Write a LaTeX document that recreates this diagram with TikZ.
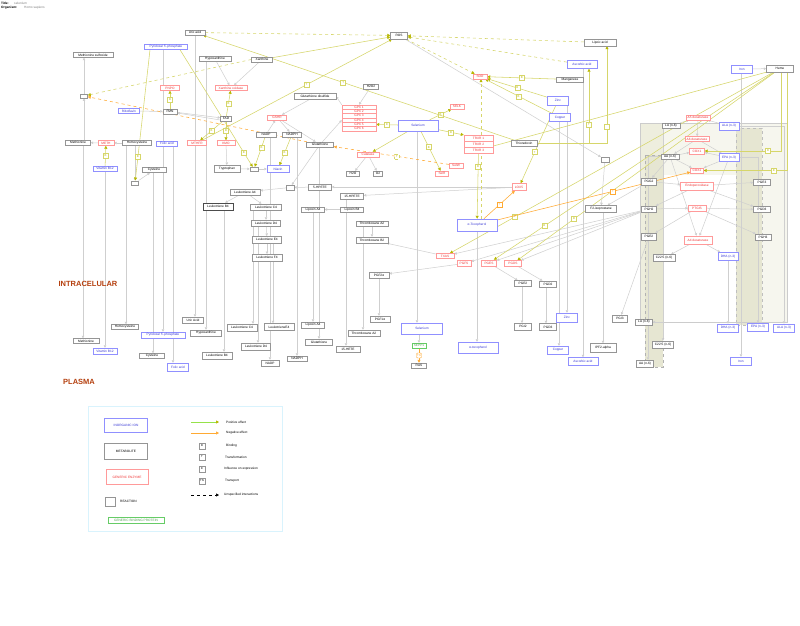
\documentclass[tikz,border=0pt]{standalone}
\usepackage{fontspec}
\setmainfont{Liberation Sans}
\usetikzlibrary{arrows.meta}
\pgfdeclarelayer{back}
\pgfdeclarelayer{bg}
\pgfsetlayers{back,bg,main}
\definecolor{ycol}{HTML}{D6D66A}
\definecolor{ydark}{HTML}{B8B800}
\definecolor{ocol}{HTML}{FFAA33}
\definecolor{gcol}{HTML}{CFCFCF}
\definecolor{mcol}{HTML}{959595}
\definecolor{bcol}{HTML}{9090FF}
\definecolor{btext}{HTML}{3535D5}
\definecolor{rcol}{HTML}{FF9A9A}
\definecolor{rtext}{HTML}{F03535}
\definecolor{brn}{HTML}{B5400F}
\definecolor{bg1}{HTML}{F6F6EE}
\definecolor{bg2}{HTML}{EEEEDE}
\definecolor{bg3}{HTML}{E6E6D2}
\definecolor{gbp}{HTML}{66CC66}
\tikzset{
 base/.style={rectangle, font=\fontsize{3.2}{3.6}\selectfont, inner sep=0.5pt, minimum height=5pt, fill=white, line width=0.45pt},
 met/.style={base, draw=mcol, text=black},
 ion/.style={base, draw=bcol, text=btext},
 enz/.style={base, draw=rcol, text=rtext},
 grn/.style={base, draw=gbp, text=gbp!80!black},
 rxn/.style={rectangle, draw=mcol, fill=white, minimum width=7pt, minimum height=4.5pt, inner sep=0pt, line width=0.45pt},
 lb/.style={rectangle, draw=ycol, fill=white, text=ydark, font=\fontsize{2.8}{3}\selectfont, inner sep=0.3pt, minimum width=5pt, minimum height=5pt, line width=0.4pt},
 lbo/.style={lb, draw=ocol, text=ocol},
 lgl/.style={lb, draw=mcol, text=black, minimum width=5.5pt, minimum height=5.5pt},
 txt/.style={font=\fontsize{3.2}{3.6}\selectfont, inner sep=0pt, anchor=west},
 gl/.style={draw=gcol, line width=0.5pt, -{Triangle[length=2.5pt,width=2.5pt]}},
 pl/.style={draw=ycol, line width=0.55pt, -{Triangle[length=3pt,width=3pt,color=ydark]}},
 nl/.style={draw=ocol, line width=0.55pt, -{Triangle[length=3pt,width=3pt]}},
 region/.style={font=\fontsize{7.5}{8}\selectfont\bfseries, text=brn},
}
\newcommand\vdown[3]{\draw[gl] ([xshift=#3]#1.south) -- ([xshift=#3]#1.south |- #2.north);}
\begin{document}
\begin{tikzpicture}[x=1pt,y=-1pt]
\useasboundingbox (0,0) rectangle (800,626);
\begin{pgfonlayer}{back}
\fill[white] (0,0) rectangle (800,626);
\fill[bg1] (640,123) rectangle (787,175);
\fill[bg2] (640,123) rectangle (663,322);
\fill[bg3] (645,155) rectangle (663,367);
\draw[gray!60, dashed, line width=0.3pt] (645,155) rectangle (663,367);
\fill[bg3] (736,128) rectangle (762,325);
\fill[bg1] (762,123) rectangle (787,322);
\draw[gray!50, dashed, line width=0.3pt] (736,128) rectangle (762,325);
\draw[gray!40, line width=0.3pt] (640,123) rectangle (787,322);
\end{pgfonlayer}
% title
\node[txt] (t1) at (1,3) {\textbf{Title:}};
\node[txt, text=gray] (t2) at (14,3) {selenium};
\node[txt] (t3) at (1,8) {\textbf{Organism:}};
\node[txt, text=gray] (t4) at (24,8) {Homo sapiens};
% region labels
\node[region] (intra) at (88,284) {INTRACELULAR};
\node[region] (plasma) at (79,382) {PLASMA};
% top left
\node[met, minimum width=20pt] (uric) at (195,32.5) {Uric acid};
\node[ion, minimum width=43pt] (pyr) at (166,47) {Pyridoxal 5'-phosphate};
\node[met, minimum width=40pt] (msulf) at (93,55) {Methionine sulfoxide};
\node[met, minimum width=32pt] (hypo) at (215,59) {Hypoxanthine};
\node[met, minimum width=21pt] (xan) at (262,59.5) {Xanthine};
\node[enz, minimum width=19pt] (pnpo) at (170,88) {PNPO};
\node[enz, minimum width=32pt] (xo) at (231,88) {Xanthine oxidase};
\node[rxn] (rx1) at (84,96) {};
\node[ion, minimum width=21pt] (ribo) at (129,111) {Riboflavin};
\node[met, minimum width=14pt] (fmn) at (170,111.5) {FMN};
\node[met, minimum width=11pt] (fad) at (226,118.5) {FAD};
\node[met, minimum width=25pt] (methio) at (78,142.5) {Methionine};
\node[enz, minimum width=16pt] (meth) at (106,143) {METH};
\node[met, minimum width=29pt] (homo) at (137,143) {Homocysteine};
\node[ion, minimum width=21pt] (folic) at (167,143.5) {Folic acid};
\node[enz, minimum width=19pt] (mthfr) at (197,143) {MTHFR};
\node[enz, minimum width=18pt] (kmo) at (226,143) {KMO};
\node[ion, minimum width=24pt] (b12) at (105,168.5) {Vitamin B12};
\node[met, minimum width=24pt] (cys) at (154,170) {Cysteine};
\node[rxn] (rx2) at (135,183) {};
\node[met, minimum width=26pt, minimum height=6.5pt] (trp) at (227,168.5) {Tryptophan};
\node[rxn, minimum width=8pt, minimum height=4pt] (rx3) at (254,169) {};
\node[ion, minimum width=22pt, minimum height=7pt] (niacin) at (278,169) {Niacin};
% glutathione area
\node[enz, minimum width=19pt] (gshr) at (277,117.5) {GSHR};
\node[met, minimum width=20pt] (nadp) at (266,134.5) {NADP};
\node[met, minimum width=19pt] (nadph) at (292,134.5) {NADPH};
\node[met, minimum width=27pt] (gsh) at (320,144.5) {Glutathione};
\node[met, minimum width=42pt, minimum height=6pt] (gssg) at (315,96.5) {Glutathione disulfide};
\node[met, minimum width=15pt] (h2o2) at (371,86.5) {H2O2};
\foreach \i in {1,...,6} \node[enz, minimum width=34pt, minimum height=4.33pt] (gpx\i) at (359,{102.8+4.33*\i}) {GPX \i};
\node[ion, minimum width=40pt, minimum height=11pt] (sel) at (418,125.5) {Selenium};
\node[met, minimum width=17pt, minimum height=7pt] (ros) at (399,35.5) {ROS};
\node[enz, minimum width=22pt] (cat) at (368,154.5) {Catalase};
\node[met, minimum width=13pt] (h2o) at (353,173.5) {H2O};
\node[met, minimum width=9pt] (o2) at (378,173.5) {O2};
\node[enz, minimum width=14pt] (selk) at (457,106.5) {SELK};
\node[enz, minimum width=14pt] (sod) at (480,76.5) {SOD};
\node[met, minimum width=27pt] (mn) at (570,79.5) {Manganese};
\node[met, minimum width=32pt, minimum height=7pt] (lipoic) at (600,42.5) {Lipoic acid};
\node[ion, minimum width=30pt, minimum height=8pt] (asc) at (582,64.5) {Ascorbic acid};
\node[ion, minimum width=21pt, minimum height=9pt] (zinc) at (558,100.5) {Zinc};
\node[ion, minimum width=21pt, minimum height=8pt] (copper) at (560,117.5) {Copper};
\foreach \i in {1,2,3} \node[enz, minimum width=29pt, minimum height=6pt] (trxr\i) at (478.5,{132+6*\i}) {TRXR \i};
\node[met, minimum width=26pt, minimum height=6pt] (trx) at (524,143.5) {Thioredoxin};
\node[enz, minimum width=14pt] (selw) at (456,165.5) {SelW};
\node[enz, minimum width=13pt] (selr) at (442,173.5) {SelR};
\node[enz, minimum width=14pt, minimum height=7pt] (lox5) at (519,187) {LOX5};
\node[ion, minimum width=40pt, minimum height=12pt] (atoc) at (477,225) {α-Tocopherol};
\node[rxn, minimum width=8pt] (rx4) at (290,187.5) {};
\node[met, minimum width=23pt, minimum height=6pt] (hpete5) at (320,187) {5-HPETE};
\node[met, minimum width=23pt, minimum height=6pt] (hpete15) at (352,196) {15-HPETE};
\node[met, minimum width=23pt] (lxa4) at (313,209.5) {Lipoxin A4};
\node[met, minimum width=23pt] (lxb4) at (352,209.5) {Lipoxin B4};
\node[met, minimum width=32pt] (txa2) at (372,223.5) {Thromboxane A2};
\node[met, minimum width=32pt, minimum height=6pt] (txb2) at (372,240) {Thromboxane B2};
\node[enz, minimum width=18pt] (txas) at (445,256) {TXAS};
\node[met, minimum width=20pt, minimum height=6pt] (pgf2a) at (379,275) {PGF2α};
\node[met, minimum width=30pt, minimum height=6pt] (lta4) at (245,192) {Leukotriene A4};
\node[met, minimum width=30pt, minimum height=7pt, line width=0.6pt, draw=black!70] (ltb4) at (218,206.5) {Leukotriene B4};
\node[met, minimum width=31pt, minimum height=6pt] (ltc4) at (266,207) {Leukotriene C4};
\node[met, minimum width=29pt, minimum height=6pt] (ltd4) at (266,223) {Leukotriene D4};
\node[met, minimum width=29pt, minimum height=6.5pt] (lte4) at (267,239.5) {Leukotriene E4};
\node[met, minimum width=30pt, minimum height=6.5pt] (ltf4) at (267,257.5) {Leukotriene F4};
\node[enz, minimum width=14pt, minimum height=6pt] (pgfs) at (464,263.5) {PGFS};
\node[enz, minimum width=15pt, minimum height=6pt] (pges) at (489,263) {PGES};
\node[enz, minimum width=17pt, minimum height=6pt] (pgds) at (513,263.5) {PGDS};
\node[met, minimum width=17pt, minimum height=6pt] (pge2) at (523,283.5) {PGE2};
\node[met, minimum width=17pt, minimum height=6pt] (pgd2) at (548,284) {PGD2};
\node[met, minimum width=17pt, minimum height=6.5pt] (pgi2) at (523,326.5) {PGI2};
\node[met, minimum width=17pt, minimum height=7pt] (pgj2) at (548,327) {PGD3};
\node[rxn, minimum width=8pt] (rx5) at (605,159.5) {};
\node[met, minimum width=31pt, minimum height=7pt] (f2iso) at (601,209) {F2-isoprostane};
% right cluster
\node[ion, minimum width=21pt, minimum height=8pt] (iron) at (742,69) {Iron};
\node[met, minimum width=27pt, minimum height=6.5pt] (heme) at (780,68.5) {Heme};
\node[enz, minimum width=24pt] (d5) at (698,117.5) {Δ5 desaturase};
\node[enz, minimum width=24pt] (d6) at (697,139) {Δ6 desaturase};
\node[met, minimum width=18pt] (la) at (671,125.5) {LA (n-6)};
\node[ion, minimum width=20pt, minimum height=8pt] (ala) at (729,126) {ALA (n-3)};
\node[enz, minimum width=15pt, minimum height=6pt] (cox1) at (697,151) {COX1};
\node[met, minimum width=18pt] (aa) at (670,156.5) {AA (n-6)};
\node[ion, minimum width=20pt, minimum height=8pt] (epa) at (729,157.5) {EPA (n-3)};
\node[enz, minimum width=13pt] (cox2) at (697,170.5) {COX2};
\node[met, minimum width=15pt, minimum height=7pt] (pgg2) at (649,181.5) {PGG2};
\node[met, minimum width=17pt, minimum height=6pt] (pge3) at (762,182) {PGE3};
\node[enz, minimum width=33pt, minimum height=8pt] (endo) at (697,186) {Endoperoxidase};
\node[met, minimum width=15pt, minimum height=6pt] (pgh2) at (649,209) {PGH2};
\node[enz, minimum width=18pt, minimum height=6pt] (ptgis) at (697,208) {PTGIS};
\node[met, minimum width=17pt, minimum height=6pt] (pgd3) at (762,209.5) {PGD3};
\node[met, minimum width=15pt, minimum height=7pt] (pge2r) at (649,236.5) {PGE2};
\node[enz, minimum width=28pt, minimum height=8pt] (d4) at (698,240) {Δ4 desaturase};
\node[met, minimum width=16pt, minimum height=6pt] (pgh3) at (763,237) {PGH3};
\node[met, minimum width=22pt, minimum height=7pt] (c225) at (664,258) {C22:5 (n-6)};
\node[ion, minimum width=20pt, minimum height=8pt] (dha) at (728,256.5) {DHA (n-3)};
\node[met, minimum width=15pt, minimum height=7pt] (pgi3) at (620,318.5) {PGI3};
\node[met, minimum width=17pt, minimum height=6pt] (la2) at (644,322) {LA (n-6)};
\node[ion, minimum width=21pt, minimum height=8pt] (dha2) at (728,328) {DHA (n-3)};
\node[ion, minimum width=21pt, minimum height=8pt] (epa2) at (758,327) {EPA (n-3)};
\node[ion, minimum width=21pt, minimum height=8pt] (ala2) at (784,328) {ALA (n-3)};
\node[met, minimum width=21pt, minimum height=7pt] (c2252) at (663,344.5) {C22:5 (n-6)};
\node[met, minimum width=17pt, minimum height=7pt] (aa2) at (645,363.5) {AA (n-6)};
\node[ion, minimum width=21pt, minimum height=8pt] (iron2) at (741,361) {Iron};
\node[met, minimum width=26pt, minimum height=9pt] (ipf) at (603,348) {IPF2-alpha};
% plasma row
\node[met, minimum width=26pt] (methio2) at (86,341) {Methionine};
\node[ion, minimum width=24pt, minimum height=6pt] (b122) at (105,351) {Vitamin B12};
\node[met, minimum width=27pt] (homo2) at (125,327) {Homocysteine};
\node[ion, minimum width=44pt, minimum height=6pt] (pyr2) at (163,335) {Pyridoxal 5'-phosphate};
\node[met, minimum width=25pt] (cys2) at (152,356) {Cysteine};
\node[ion, minimum width=21pt, minimum height=8pt] (folic2) at (178,367) {Folic acid};
\node[met, minimum width=21pt, minimum height=6pt] (uric2) at (193,320) {Uric Acid};
\node[met, minimum width=31pt, minimum height=6pt] (hypo2) at (206,333) {Hypoxanthine};
\node[met, minimum width=30pt, minimum height=7pt] (ltb42) at (217,355.5) {Leukotriene B4};
\node[met, minimum width=30pt, minimum height=7pt] (ltc42) at (242,327.5) {Leukotriene C4};
\node[met, minimum width=29pt, minimum height=7pt] (ltd42) at (256,346.5) {Leukotriene D4};
\node[met, minimum width=30pt, minimum height=7pt] (lte42) at (279,327) {LeukotrieneE4};
\node[met, minimum width=18pt, minimum height=6pt] (nadp2) at (270,363) {NADP};
\node[met, minimum width=20pt] (nadph2) at (297,358.5) {NADPH};
\node[met, minimum width=23pt, minimum height=6pt] (lxa42) at (313,325) {Lipoxin A4};
\node[met, minimum width=27pt, minimum height=6pt] (gsh2) at (319,342) {Glutathione};
\node[met, minimum width=24pt, minimum height=6pt] (hete15) at (348,349) {15-HETE};
\node[met, minimum width=32pt, minimum height=6pt] (txa22) at (364,333) {Thromboxane A2};
\node[met, minimum width=20pt, minimum height=6pt] (pgf1a) at (380,319) {PGF1α};
\node[ion, minimum width=41pt, minimum height=11pt] (sel2) at (422,328.5) {Selenium};
\node[grn, minimum width=14pt] (sepp) at (419,345.5) {SEPP1};
\node[met, minimum width=15pt] (ras) at (419,365.5) {RAS};
\node[ion, minimum width=40pt, minimum height=11pt] (atoc2) at (478,347.5) {α-tocopherol};
\node[ion, minimum width=21pt, minimum height=9pt] (zinc2) at (567,317.5) {Zinc};
\node[ion, minimum width=21pt, minimum height=8pt] (copper2) at (558,350) {Copper};
\node[ion, minimum width=30pt, minimum height=8pt] (asc2) at (583,361.5) {Ascorbic acid};
% legend
\draw[draw=cyan!15, line width=0.6pt] (88,406) rectangle (282,531);
\node[ion, minimum width=43pt, minimum height=14pt] (lg1) at (126,425) {INORGANIC ION};
\node[met, minimum width=43pt, minimum height=16pt] (lg2) at (126,451) {METABOLITE};
\node[enz, minimum width=42pt, minimum height=15pt] (lg3) at (127,477) {GENERIC ENZYME};
\node[rxn, minimum width=10pt, minimum height=9pt] (lg4) at (110,501.5) {};
\node[txt] (lg4t) at (120,501.5) {REACTION};
\node[grn, minimum width=56pt, minimum height=6pt] (lg5) at (136,520) {GENERIC BINDING PROTEIN};
\coordinate (lgA1) at (191,422); \coordinate (lgA2) at (219,422);
\coordinate (lgB1) at (191,433); \coordinate (lgB2) at (219,433);
\coordinate (lgC1) at (191,495); \coordinate (lgC2) at (219,495);
\draw[draw=ycol!70!green, line width=0.6pt, -{Triangle[length=3pt,width=3pt,color=ydark]}] (lgA1) -- (lgA2);
\draw[nl] (lgB1) -- (lgB2);
\draw[dashed, line width=0.5pt, -{Triangle[length=3pt,width=3pt]}] (lgC1) -- (lgC2);
\node[txt] (lt1) at (226,422) {Positive effect};
\node[txt] (lt2) at (226,433) {Negative effect};
\node[lgl] (lk1) at (202,446) {B};
\node[txt] (lt3) at (226,446) {Binding};
\node[lgl] (lk2) at (202,457) {T};
\node[txt] (lt4) at (225,457) {Transformation};
\node[lgl] (lk3) at (202,469) {E};
\node[txt] (lt5) at (224,469) {Influence on expression};
\node[lgl] (lk4) at (202,481) {TN};
\node[txt] (lt6) at (225,481) {Transport};
\node[txt] (lt7) at (224,495) {Unspecified interactions};
\begin{pgfonlayer}{bg}
% vertical intracellular -> plasma
\vdown{methio}{methio2}{5pt}
\vdown{b12}{b122}{0pt}
\vdown{homo}{homo2}{-11pt}
\vdown{cys}{cys2}{-1pt}
\vdown{pyr}{pyr2}{-3pt}
\vdown{folic}{folic2}{6pt}
\vdown{uric}{uric2}{0pt}
\vdown{hypo}{hypo2}{-9pt}
\vdown{ltb4}{ltb42}{6pt}
\vdown{ltc4}{ltc42}{-13pt}
\vdown{ltd4}{ltd42}{-8pt}
\vdown{nadp}{nadp2}{4pt}
\vdown{lte4}{lte42}{6pt}
\vdown{nadph}{nadph2}{5pt}
\vdown{lxa4}{lxa42}{0pt}
\vdown{gsh}{gsh2}{-1pt}
\vdown{hpete15}{hete15}{-6pt}
\vdown{txa2}{txa22}{-9pt}
\vdown{pgf2a}{pgf1a}{0pt}
\vdown{sel}{sel2}{-1pt}
\vdown{atoc}{atoc2}{0pt}
\vdown{pge2}{pgi2}{-1pt}
\vdown{pgd2}{pgj2}{-2pt}
\vdown{zinc}{zinc2}{9pt}
\vdown{copper}{copper2}{-1pt}
\vdown{asc}{asc2}{1pt}
\vdown{f2iso}{ipf}{2pt}
\vdown{iron}{iron2}{-1pt}
\vdown{dha}{dha2}{0pt}
\vdown{c225}{c2252}{-1pt}
\vdown{sel2}{sepp}{-3pt}
\draw[ocol, line width=0.6pt, -{Triangle[length=3pt,width=3pt]}] (sepp) -- node[lbo, rounded corners=1pt]{TN} (ras);
% gray metabolic
\draw[gl] (rx1.north) -- (rx1.north |- msulf.south);
\draw[gl] (rx1.south |- methio.north) -- (rx1.south);
\draw[gl] (homo) -- (meth);
\draw[gl] (meth) -- (methio);
\draw[gl] (rx2.north |- homo.south) -- (rx2.north);
\draw[gl] (rx2) -- (cys);
\draw[gl] (ribo) -- (fmn);
\draw[gl] (fmn) -- (fad);
\draw[gl] ([yshift=-1.5pt]fad.west) -- ([yshift=-1.5pt]fmn.east);
\draw[gl] (hypo) -- (xo);
\draw[gl] (xan) -- (xo);
\draw[gl] (kmo) -- (trp);
\draw[gl] (trp) -- (rx3);
\draw[gl] (rx3) -- (niacin);
\draw[gl] (nadp) -- (gshr);
\draw[gl] (gshr) -- (nadph);
\draw[gl] (gshr) -- (gsh);
\draw[gl] (gsh) -- (gpx4.west);
\draw[gl] (h2o2) -- (gpx1.north);
\draw[gl] (gpx1.north west) -- (gssg.east);
\draw[gl] (gssg) -- (gshr);
\draw[gl] (cat) -- (h2o);
\draw[gl] (cat) -- (o2);
\draw[gl] (hpete5) -- (rx4);
\draw[gl] (gsh) -- (rx4);
\draw[gl] (rx4) -- (lta4);
\draw[gl] (lox5) -- (hpete5);
\draw[gl] (lox5) -- (hpete15);
\draw[gl] (lxb4) -- (lxa4);
\draw[gl] (lta4) -- (ltb4);
\draw[gl] (lta4) -- (ltc4);
\draw[gl] (ltc4) -- (ltd4);
\draw[gl] (ltd4) -- (lte4);
\draw[gl] (lte4) -- (ltf4);
\draw[gl] (txa2) -- (txb2);
\draw[gl] (txas) -- (txb2);
\draw[gl] (pgfs) -- (pgf2a);
\draw[gl] (pges) -- (pge2);
\draw[gl] (pgds) -- (pgd2);
\draw[gl] (pgh2) -- (txas);
\draw[gl] (pgh2) -- (pgfs);
\draw[gl] (pgh2) -- (pges);
\draw[gl] (pgh2) -- (pgds);
\draw[gl] (pgg2) -- (f2iso);
\draw[gl] (ros) -- (rx5);
\draw[gl] (rx5) -- (f2iso);
% right cluster gray
\draw[gl] (iron) -- (heme);
\draw[gl] (la) -- (d5);
\draw[gl] (ala) -- (d5);
\draw[gl] (d5) -- (d6);
\draw[gl] (d6) -- (aa);
\draw[gl] (d6) -- (epa);
\draw[gl] (aa) -- (cox1);
\draw[gl] (epa) -- (cox1);
\draw[gl] (aa) -- (cox2);
\draw[gl] (epa) -- (cox2);
\draw[gl] (aa) -- (pgg2);
\draw[gl] (aa) -- (d4);
\draw[gl] (epa) -- (d4);
\draw[gl] (pgg2) -- (endo);
\draw[gl] (endo) -- (pge3);
\draw[gl] (endo) -- (pgd3);
\draw[gl] (endo) -- (pgh2);
\draw[gl] (pgh2) -- (ptgis);
\draw[gl] (ptgis) -- (pgd3);
\draw[gl] (ptgis) -- (pge2r);
\draw[gl] (ptgis) -- (pgh3);
\draw[gl] (d4) -- (c225);
\draw[gl] (d4) -- (dha);
\draw[gl] (pge2r) -- (pgi3);
\draw[gl] ([xshift=1pt]la.south west) |- (la2.east);
\draw[gl] (aa.west) -| ([xshift=3pt]aa2.north);
\draw[gl] (epa.east) -| (epa2.north);
\draw[gl] (ala.east) -| (ala2.north);
% positive effects
\draw[pl] (fmn) -- node[lb]{B} (pnpo);
\draw[pl] (fad) -- node[lb]{B} (xo);
\draw[pl] (fad) -- node[lb]{B} (kmo);
\draw[pl] (fad) -- node[lb]{B} (mthfr);
\draw[pl] (b12) -- node[lb]{B} (meth);
\draw[pl] ([xshift=-16pt]pyr.south) -- node[lb,pos=0.82]{B} (rx2);
\draw[pl] ([xshift=14pt]pyr.south) -- node[lb,pos=0.88]{B} (rx3);
\draw[pl] (nadp) -- node[lb,pos=0.35]{B} (rx3);
\draw[pl] (nadph) -- node[lb,pos=0.55]{B} (niacin);
\draw[pl] (sel) -- node[lb]{E} (gpx5.east);
\draw[pl] (sel) -- node[lb]{B} (trxr1);
\draw[pl] (sel) -- node[lb]{B} (selk);
\draw[pl] (sel) -- node[lb,pos=0.4]{B} (selr);
\draw[pl] (sel) -- (cat);
\draw[pl] (mn) -- node[lb]{B} (sod);
\draw[pl] (zinc) -- node[lb]{B} (sod);
\draw[pl] (copper) -- node[lb]{B} (sod);
\draw[pl] (trx.east) -| node[lb,pos=0.625]{T} ([xshift=7pt]asc.south);
\draw[pl] (trx.east) -| node[lb,pos=0.585]{} ([xshift=7pt]lipoic.south);
\draw[pl,dashed] (uric) -- (ros);
\draw[pl,dashed] (lipoic) -- (ros);
\draw[pl,dashed] (asc) -- (ros);
\draw[pl,dashed] (ros) -- (sod);
\draw[pl,dashed] ([xshift=4pt]atoc.north) -- ([xshift=1pt]sod.south);
\draw[pl,dashed] (xan.west) -- (rx1);
\draw[pl] (xan) -- (ros);
\draw[pl] (mthfr) -- node[lb,pos=0.55]{T} (ros);
\draw[pl] (trx) -- node[lb,pos=0.55]{T} (uric);
\draw[pl] (zinc) -- node[lb,pos=0.6]{T} (lox5);
\draw[pl] (trxr3) -- node[lb,pos=0.2]{B} (atoc);
\draw[pl] (heme) -- node[lb,pos=0.8]{B} (txas);
\draw[pl] (heme) -- node[lb,pos=0.82]{B} (pges);
\draw[pl] (heme) -- node[lb,pos=0.78]{B} (pgds);
\draw[pl] (heme) -- (trxr3);
\draw[pl] ([xshift=1pt]heme.south) |- node[lb,pos=0.585]{B} (cox1);
\draw[pl] ([xshift=7pt]heme.south) |- node[lb,pos=0.58]{B} (cox2);
% negative effects
\draw[nl] (atoc) -- node[lbo]{T} (lox5);
\draw[nl] (atoc) -- node[lbo,pos=0.6]{T} (cox2);
\draw[nl,dashed] (gsh) -- (rx1);
\draw[nl,dashed] (selw) -- node[lb,pos=0.45]{T} (gsh);
\end{pgfonlayer}
\end{tikzpicture}
\end{document}
